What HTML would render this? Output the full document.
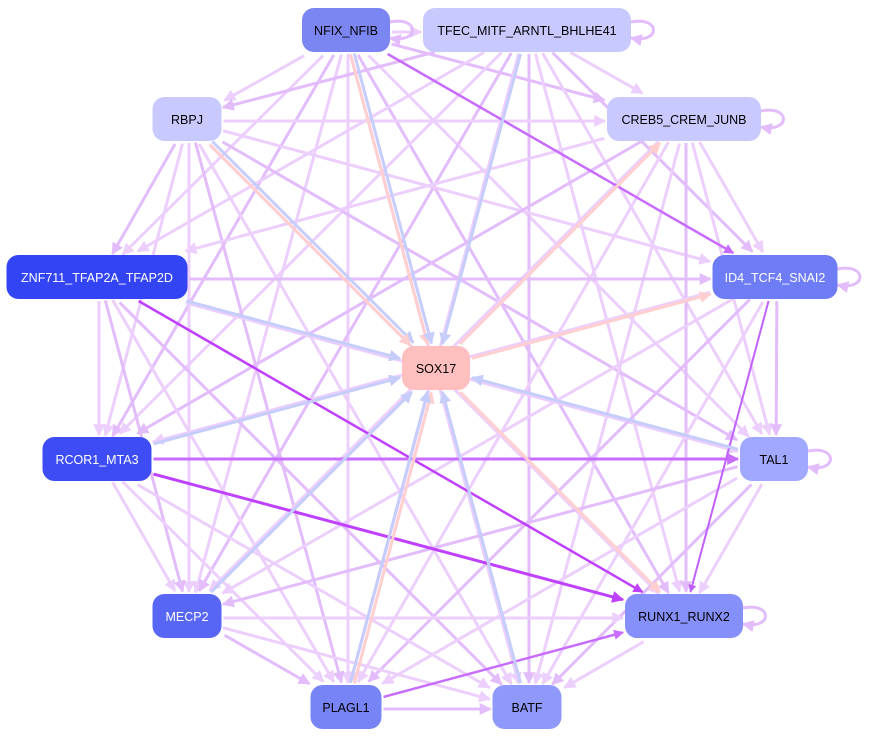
<!DOCTYPE html>
<html><head><meta charset="utf-8">
<style>
html,body{margin:0;padding:0;background:#fff;}
svg{display:block;}
text{font-family:"Liberation Sans",Arial,sans-serif;font-size:12.5px;}
</style></head>
<body>
<svg id="s" width="869" height="736" viewBox="0 0 869 736" xmlns="http://www.w3.org/2000/svg">
<defs></defs>
<g id="edges"></g>
<g id="nodes"></g>
</svg>
<script>
var N={
NFIX:{x:346,y:30,w:88,c:"#7b86f2",t:"NFIX_NFIB",tc:"#000"},
TFEC:{x:527,y:30,w:208,c:"#c8caff",t:"TFEC_MITF_ARNTL_BHLHE41",tc:"#000"},
RBPJ:{x:187,y:119,w:69,c:"#c8caff",t:"RBPJ",tc:"#000"},
CREB:{x:684,y:119,w:154,c:"#c8caff",t:"CREB5_CREM_JUNB",tc:"#000"},
ZNF:{x:97,y:277,w:181,c:"#3344f5",t:"ZNF711_TFAP2A_TFAP2D",tc:"#fff"},
ID4:{x:775,y:277,w:125,c:"#6e7cf5",t:"ID4_TCF4_SNAI2",tc:"#fff"},
SOX:{x:436,y:368,w:68,c:"#ffbfbf",t:"SOX17",tc:"#000"},
RCOR:{x:97,y:459,w:109,c:"#3d4cf5",t:"RCOR1_MTA3",tc:"#fff"},
TAL:{x:774,y:459,w:68,c:"#a0a8ff",t:"TAL1",tc:"#000"},
MECP:{x:187,y:616,w:69,c:"#5766f5",t:"MECP2",tc:"#fff"},
RUNX:{x:684,y:616,w:118,c:"#8590fa",t:"RUNX1_RUNX2",tc:"#000"},
PLAG:{x:346,y:707,w:71,c:"#7784f5",t:"PLAGL1",tc:"#000"},
BATF:{x:527,y:707,w:69,c:"#8f99fc",t:"BATF",tc:"#000"}
};
var H=44,NS="http://www.w3.org/2000/svg";
var defs=document.querySelector("defs"),E=document.getElementById("edges"),G=document.getElementById("nodes");
var markers={};
function mk(col){var id="m"+col.replace("#","");if(markers[id])return id;markers[id]=1;
var m=document.createElementNS(NS,"marker");m.setAttribute("id",id);m.setAttribute("viewBox","0 0 10 10");
m.setAttribute("refX","9");m.setAttribute("refY","5");m.setAttribute("markerWidth","4");m.setAttribute("markerHeight","4");m.setAttribute("orient","auto");
var p=document.createElementNS(NS,"path");p.setAttribute("d","M0,0 L10,5 L0,10 z");p.setAttribute("fill",col);m.appendChild(p);defs.appendChild(m);return id;}
function clip(a,b){var dx=b.x-a.x,dy=b.y-a.y;var tx=dx?(b.w/2+2)/Math.abs(dx):1e9,ty=dy?(H/2+2)/Math.abs(dy):1e9;var t=Math.min(tx,ty);return [b.x-dx*t,b.y-dy*t];}
function edge(a,b,col,w,off){var A=N[a],B=N[b];off=off||0;
var dx=B.x-A.x,dy=B.y-A.y,L=Math.sqrt(dx*dx+dy*dy),ox=-dy/L*off,oy=dx/L*off;
var A2={x:A.x+ox,y:A.y+oy,w:A.w},B2={x:B.x+ox,y:B.y+oy,w:B.w};
var p=clip(B2,A2),q=clip(A2,B2);
var l=document.createElementNS(NS,"line");l.setAttribute("x1",p[0]);l.setAttribute("y1",p[1]);l.setAttribute("x2",q[0]);l.setAttribute("y2",q[1]);
l.setAttribute("stroke",col);l.setAttribute("stroke-width",w||3);l.setAttribute("marker-end","url(#"+mk(col)+")");E.appendChild(l);}
var keys=Object.keys(N).filter(function(k){return k!="SOX"});
var LP="#eccffc",LP2="#e2bcfb";
var special={"ZNF-RUNX":1,"RCOR-RUNX":1,"RCOR-TAL":1,"NFIX-ID4":1,"ID4-RUNX":1,"PLAG-RUNX":1};
for(var i=0;i<keys.length;i++)for(var j=i+1;j<keys.length;j++){
var a=keys[i],b=keys[j];if(special[a+"-"+b]||special[b+"-"+a])continue;
edge(a,b,(i+j)%3==0?LP2:LP,3,(i+j)%2?2:-2);}
edge("ZNF","RUNX","#bf40ff",2.5);edge("RCOR","RUNX","#bf40ff",3);edge("RCOR","TAL","#c86cff",3);
edge("NFIX","ID4","#c86cff",2.5);edge("ID4","RUNX","#c060ff",2);edge("PLAG","RUNX","#c86cff",2.5);
var BL="#c6cdfb",PE="#ffcfcf";
[["RBPJ",BL,-2],["RBPJ",PE,2],["NFIX",PE,2],["NFIX",BL,-2],["TFEC",BL,0],["CREB",PE,0],["ID4",PE,0],["ZNF",BL,0],["RCOR",BL,0],["TAL",BL,0],["MECP",BL,0],["PLAG",PE,2],["PLAG",BL,-2],["BATF",BL,0],["RUNX",PE,0]].forEach(function(e){
if(e[0]=="RUNX"||e[0]=="CREB"||e[0]=="ID4")edge("SOX",e[0],e[1],3,e[2]);else edge(e[0],"SOX",e[1],3,e[2]);});
["NFIX","TFEC","CREB","ID4","TAL","RUNX"].forEach(function(k){var n=N[k],x=n.x+n.w/2;
var p=document.createElementNS(NS,"path");p.setAttribute("d","M"+x+","+(n.y-8)+" C"+(x+30)+","+(n.y-14)+" "+(x+30)+","+(n.y+14)+" "+x+","+(n.y+8));
p.setAttribute("fill","none");p.setAttribute("stroke",LP2);p.setAttribute("stroke-width",3);p.setAttribute("marker-end","url(#"+mk(LP2)+")");E.appendChild(p);});
for(var k in N){var n=N[k];
var r=document.createElementNS(NS,"rect");r.setAttribute("x",n.x-n.w/2);r.setAttribute("y",n.y-H/2);r.setAttribute("width",n.w);r.setAttribute("height",H);
r.setAttribute("rx",12);r.setAttribute("fill",n.c);G.appendChild(r);
var t=document.createElementNS(NS,"text");t.setAttribute("x",n.x);t.setAttribute("y",n.y+5);t.setAttribute("text-anchor","middle");t.setAttribute("fill",n.tc);t.textContent=n.t;G.appendChild(t);}
</script>
</body></html>
